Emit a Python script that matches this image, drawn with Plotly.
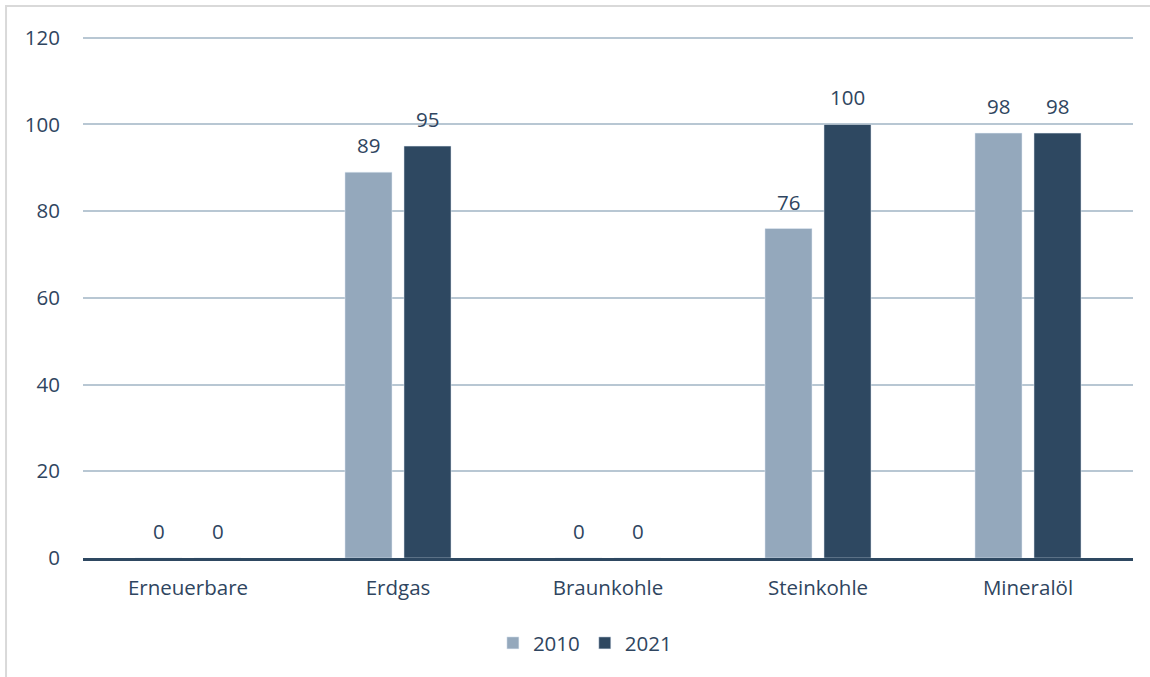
import plotly.graph_objects as go

categories = ["Erneuerbare", "Erdgas", "Braunkohle", "Steinkohle", "Mineralöl"]
values_2010 = [0, 89, 0, 76, 98]
values_2021 = [0, 95, 0, 100, 98]
y_ticks = [0, 20, 40, 60, 80, 100, 120]

c2010 = "#94A8BC"
c2021 = "#2E4861"
txt = "#2F4560"
font_family = "Open Sans, Noto Sans, sans-serif"
fs = 20.5

fig = go.Figure()
fig.add_trace(go.Bar(name="2010", x=categories, y=values_2010, marker_color=c2010))
fig.add_trace(go.Bar(name="2021", x=categories, y=values_2021, marker_color=c2021))

annotations = []
for vals, shift in [(values_2010, -29.5), (values_2021, 29.5)]:
    for cat, v in zip(categories, vals):
        annotations.append(dict(
            x=cat, y=v, xref="x", yref="y", text=str(v), showarrow=False,
            xshift=shift, yshift=11, yanchor="bottom",
            font=dict(family=font_family, size=fs, color=txt)))

fig.update_layout(
    width=1150, height=677,
    margin=dict(l=83, r=17, t=36, b=119),
    paper_bgcolor="white", plot_bgcolor="white",
    barmode="group", bargap=0.438, bargroupgap=0.203,
    font=dict(family=font_family, size=fs, color=txt),
    annotations=annotations,
    legend=dict(orientation="h", x=0.478, xanchor="center", y=-0.163, yanchor="middle",
                font=dict(family=font_family, size=fs, color=txt), traceorder="normal",
                itemwidth=30),
    showlegend=True,
    shapes=[dict(type="rect", xref="paper", yref="paper",
                 x0=-0.0733, x1=1.03, y0=-0.3, y1=1.0575,
                 line=dict(color="#D9D9D9", width=2), layer="below")],
)
fig.update_yaxes(range=[0, 120.4], tickvals=y_ticks, showgrid=True, gridcolor="#B8C7D3",
                 gridwidth=1.5, zeroline=False, showline=False, ticklabelstandoff=22,
                 tickfont=dict(family=font_family, size=fs, color=txt))
fig.update_xaxes(showline=True, linecolor=c2021, linewidth=3, ticks="", ticklabelstandoff=9,
                 tickfont=dict(family=font_family, size=fs, color=txt))

fig.write_html("out.html", config={"displayModeBar": False},
               post_script="document.body.style.margin='0px';document.body.style.overflow='hidden';")
